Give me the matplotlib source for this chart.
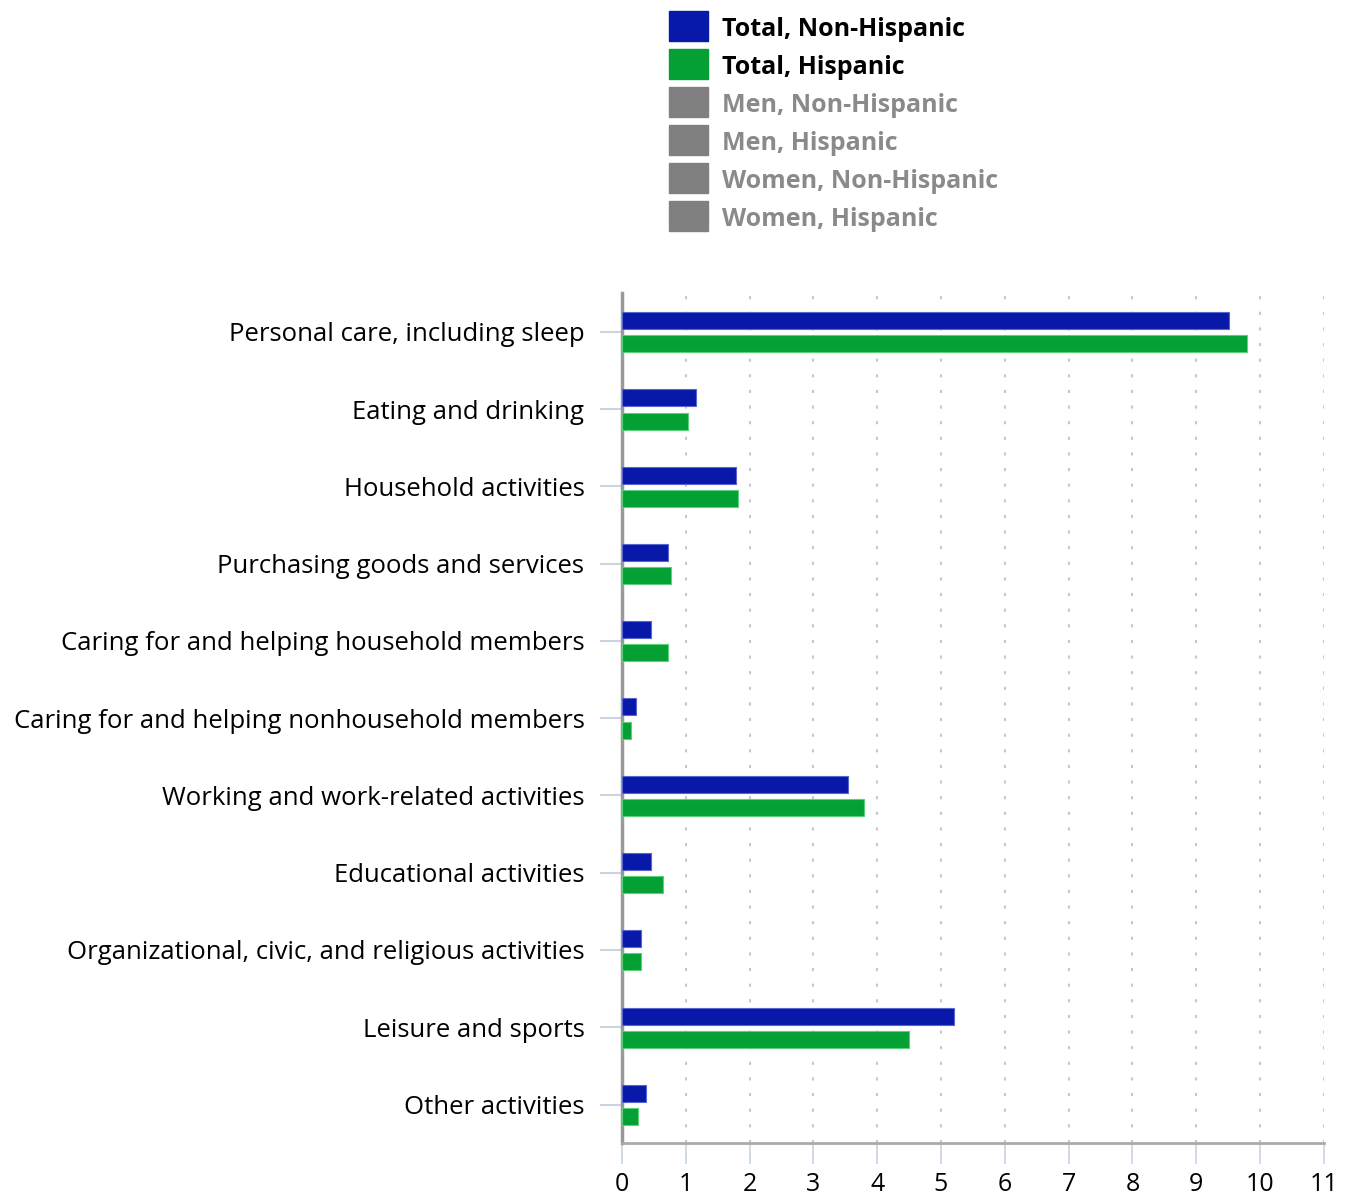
import matplotlib.pyplot as plt
import numpy as np
from matplotlib.patches import Rectangle

categories = ["Personal care, including sleep", "Eating and drinking", "Household activities",
              "Purchasing goods and services", "Caring for and helping household members",
              "Caring for and helping nonhousehold members", "Working and work-related activities",
              "Educational activities", "Organizational, civic, and religious activities",
              "Leisure and sports", "Other activities"]
non_hispanic = [9.51, 1.16, 1.79, 0.72, 0.45, 0.22, 3.55, 0.45, 0.30, 5.20, 0.38]
hispanic = [9.79, 1.04, 1.82, 0.77, 0.72, 0.14, 3.79, 0.64, 0.30, 4.50, 0.25]

legend_labels = ["Total, Non-Hispanic", "Total, Hispanic", "Men, Non-Hispanic",
                 "Men, Hispanic", "Women, Non-Hispanic", "Women, Hispanic"]
legend_active = [True, True, False, False, False, False]

BLUE, GREEN, GREY = "#0818a8", "#04a033", "#808080"
plt.rcParams['font.family'] = ['Open Sans', 'DejaVu Sans']

fig = plt.figure(figsize=(13.55, 11.97), dpi=100)
ax = fig.add_axes([0.459, 0.045, 0.518, 0.710])

y = np.arange(len(categories))
ax.barh(y - 0.145, non_hispanic, height=0.22, color=BLUE, edgecolor="#5a66d0", linewidth=0.8, zorder=3)
ax.barh(y + 0.155, hispanic, height=0.22, color=GREEN, edgecolor="#5ccf7d", linewidth=0.8, zorder=3)

ax.set_ylim(len(categories) - 0.5, -0.5)
ax.set_xlim(0, 11)
ax.set_yticks(y)
ax.set_yticklabels(categories, fontsize=18.5, va="center_baseline")
ax.set_xticks(range(12))
ax.tick_params(axis="x", labelsize=18, length=15, width=1.2, color="#c8d4e4", pad=6)
ax.tick_params(axis="y", length=16, width=1.5, color="#c8d4e4", pad=11)
ax.grid(axis="x", color="#c8c8c8", linestyle=(0, (1.5, 6)), linewidth=1.5, zorder=0)

for s in ["top", "right"]:
    ax.spines[s].set_visible(False)
ax.spines["left"].set_color("#999999")
ax.spines["left"].set_linewidth(2.5)
ax.spines["bottom"].set_color("#aaaaaa")
ax.spines["bottom"].set_linewidth(2)

# legend drawn by hand, greyed-out series as in the interactive original
colors = [BLUE, GREEN] + [GREY] * 4
for i, (lab, on) in enumerate(zip(legend_labels, legend_active)):
    yc = 1 - (26 + 38 * i) / 1197
    fig.add_artist(Rectangle((669 / 1355, yc - 15 / 1197), 39 / 1355, 30 / 1197,
                             transform=fig.transFigure, color=colors[i]))
    fig.text(722 / 1355, yc, lab, fontsize=18, fontweight="bold",
             color="black" if on else "#8a8a8a", va="center_baseline", ha="left")

fig.savefig("out.png", dpi=100)
